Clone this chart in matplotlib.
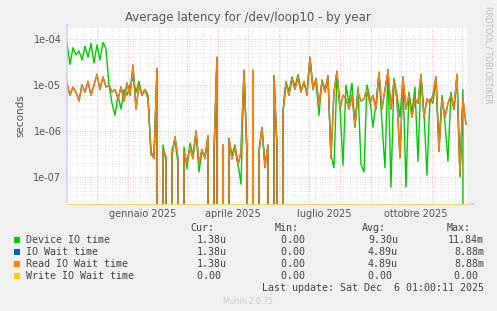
import datetime

import matplotlib
matplotlib.use("Agg")
import matplotlib.pyplot as plt
import matplotlib.dates as mdates
import numpy as np
from matplotlib.patches import Rectangle

# samples every 3 days, values in microseconds (0 = no latency)
start = datetime.datetime(2024, 11, 1)
end = datetime.datetime(2025, 12, 6, 1, 0)
step_days = 3

device_io_us = [
    80, 28, 65, 45, 55, 35, 70, 40, 80, 30, 75, 35, 85, 60,
    10, 4, 2.2, 6, 3, 8, 6, 10, 14, 7, 12, 6, 8, 6,
    0.3, 0.3, 20, 0, 0.5, 0.22, 0, 0.4, 0.6, 0.2, 0, 0.45,
    0.15, 0.55, 0.3, 0.9, 0.13, 0.35, 0.3, 0.7, 0, 0.3,
    38, 0, 0.4, 0, 0.6, 0.3, 0.5, 0.2, 0.07, 20,
    0.35, 0, 20, 0, 0.4, 1.1, 0.2, 0.45, 0, 15,
    0.4, 0, 2.8, 12, 7, 15, 9, 17, 8, 11,
    7, 38, 9, 12, 2.2, 13, 8, 14, 0.3, 0.16,
    18, 3.5, 0.18, 10, 4, 11, 1.2, 9, 0.19, 0.13,
    10, 5, 1.2, 4, 17, 1.5, 0.16, 22, 0.06, 14,
    6, 2, 14, 0.06, 7, 2.5, 9, 0.22, 16, 2.5,
    0.11, 5, 4, 14, 0.5, 6, 1.5, 0.22, 7, 3,
    15, 0.1, 8, 0,
]

read_wait_us = [
    11, 6, 9, 7, 4.5, 10, 7, 12, 6, 10, 17, 8, 15, 9,
    10, 7, 8, 5, 9, 4.5, 11, 6, 27, 3, 10, 6, 8, 5,
    0.35, 0.25, 23, 0, 0.4, 0.28, 0, 0.3, 0.75, 0.25, 0, 0.35,
    0.2, 0.45, 0.25, 1.0, 0.2, 0.4, 0.25, 0.8, 0, 0.35,
    40, 0, 0.5, 0, 0.7, 0.25, 0.45, 0.18, 0.35, 21,
    0.3, 0, 21, 0, 0.35, 1.2, 0.16, 0.5, 0, 16,
    0.5, 0, 2.5, 11, 6, 14, 8, 15, 7, 12,
    6, 40, 8, 14, 3.5, 12, 7, 16, 0.26, 7,
    20, 3, 6, 5, 3, 6, 1.3, 7, 4.5, 5,
    8, 4, 6, 3, 19, 3, 8, 20, 3, 12,
    5, 0.26, 15, 3, 6, 2, 5, 4, 17, 2,
    5, 4, 6, 15, 0.36, 5, 2, 4, 6, 3,
    17, 0.11, 5, 1.4,
]

io_wait_us = list(read_wait_us)
write_wait_us = [0.0] * len(read_wait_us)

series_names = ["Device IO time", "IO Wait time", "Read IO Wait time", "Write IO Wait time"]
series_colors = ["#00CC00", "#0066B3", "#FF8000", "#FFCC00"]
cur_vals = ["1.38u", "1.38u", "1.38u", "0.00 "]
min_vals = ["0.00 ", "0.00 ", "0.00 ", "0.00 "]
avg_vals = ["9.30u", "4.89u", "4.89u", "0.00 "]
max_vals = ["11.84m", "8.88m", "8.88m", "0.00 "]

month_names = {1: "gennaio", 4: "aprile", 7: "luglio", 10: "ottobre"}

W, H = 497, 311
y_floor, y_top = 2.6e-8, 1.73e-4


def fx(px):
    return px / W


def fy(py):
    return 1 - py / H


fig = plt.figure(figsize=(W / 100, H / 100), dpi=100, facecolor="#F0F0F0")
ax = fig.add_axes([fx(67), fy(204), fx(467) - fx(67), fy(28) - fy(204)])
ax.set_facecolor("white")

dates = [start + datetime.timedelta(days=step_days * i) for i in range(len(read_wait_us))]
all_series = [device_io_us, io_wait_us, read_wait_us, write_wait_us]
for vals, color in zip(all_series, series_colors):
    vals = np.array(vals) * 1e-6
    if color == "#FFCC00":
        # rrdtool draws the all-zero series along the bottom edge
        vals = np.clip(vals, y_floor, None)
        ax.plot(dates, vals, color=color, lw=0.7, alpha=0.6, zorder=4, clip_on=False)
    else:
        ax.plot(dates, vals, color=color, lw=1.0, zorder=3)

ax.set_yscale("log")
ax.set_ylim(y_floor, y_top)
ax.set_xlim(start, end)

# grids
ax.xaxis.set_major_locator(mdates.MonthLocator())
ax.xaxis.set_minor_locator(mdates.WeekdayLocator(byweekday=mdates.MO))
ax.yaxis.set_major_locator(matplotlib.ticker.LogLocator(base=10))
ax.yaxis.set_minor_locator(matplotlib.ticker.LogLocator(base=10, subs=np.arange(2, 10)))
ax.grid(which="minor", color="#D8D8D8", lw=0.6, ls=(0, (1, 2)), zorder=1)
ax.grid(which="major", color="#E8A0A0", lw=0.6, ls=(0, (1, 2)), zorder=2)
ax.tick_params(which="both", length=0)
ax.set_xticklabels([])
ax.yaxis.set_minor_formatter(matplotlib.ticker.NullFormatter())
ax.yaxis.set_major_formatter(matplotlib.ticker.FuncFormatter(lambda v, p: "{:.0e}".format(v)))
ax.tick_params(axis="y", labelsize=7, labelcolor="#555555", pad=4)
ax.set_ylabel("seconds", fontsize=7.5, color="#555555", labelpad=6)

# quarterly month labels centred mid-month
for m in [1, 4, 7, 10]:
    d = datetime.datetime(2025, m, 16)
    ax.text(d, -0.03, "{} 2025".format(month_names[m]), transform=ax.get_xaxis_transform(),
            ha="center", va="top", fontsize=7, color="#555555")

for s in ax.spines.values():
    s.set_visible(False)

# axis arrows
arrow_kw = dict(arrowstyle="-|>,head_length=0.5,head_width=0.2", color="#C8C8F0", lw=0.8)
fig.add_artist(matplotlib.patches.FancyArrowPatch((fx(67), fy(205)), (fx(67), fy(20)),
                                                  transform=fig.transFigure, **arrow_kw))
fig.add_artist(matplotlib.patches.FancyArrowPatch((fx(66), fy(204)), (fx(478), fy(204)),
                                                  transform=fig.transFigure, zorder=0, **arrow_kw))

fig.text(fx(248), fy(18), "Average latency for /dev/loop10 - by year", ha="center", va="center",
         fontsize=8.5, color="#555555")
fig.text(fx(488), fy(55), "RRDTOOL / TOBI OETIKER", rotation=270, ha="center", va="center",
         fontsize=5.5, color="#BBBBBB")

# legend table
mono = dict(family="DejaVu Sans Mono", fontsize=7.2, color="#444444", va="center")
for x, head in [(190, "Cur:"), (275, "Min:"), (362, "Avg:"), (447, "Max:")]:
    fig.text(fx(x), fy(228), head, ha="left", **mono)
for i, name in enumerate(series_names):
    yc = 240 + 12 * i
    fig.patches.append(Rectangle((fx(14), fy(yc + 3)), fx(6), 6 / H, transform=fig.transFigure,
                                 facecolor=series_colors[i], edgecolor="none"))
    fig.text(fx(26), fy(yc), name, ha="left", **mono)
    fig.text(fx(227), fy(yc), cur_vals[i], ha="right", **mono)
    fig.text(fx(311), fy(yc), min_vals[i], ha="right", **mono)
    fig.text(fx(398), fy(yc), avg_vals[i], ha="right", **mono)
    fig.text(fx(484), fy(yc), max_vals[i], ha="right", **mono)
fig.text(fx(484), fy(288), "Last update: Sat Dec  6 01:00:11 2025", ha="right", **mono)
fig.text(fx(248), fy(301), "Munin 2.0.75", ha="center", va="center", fontsize=5.5, color="#CCCCCC")

fig.savefig("out.png", dpi=100, facecolor=fig.get_facecolor())
